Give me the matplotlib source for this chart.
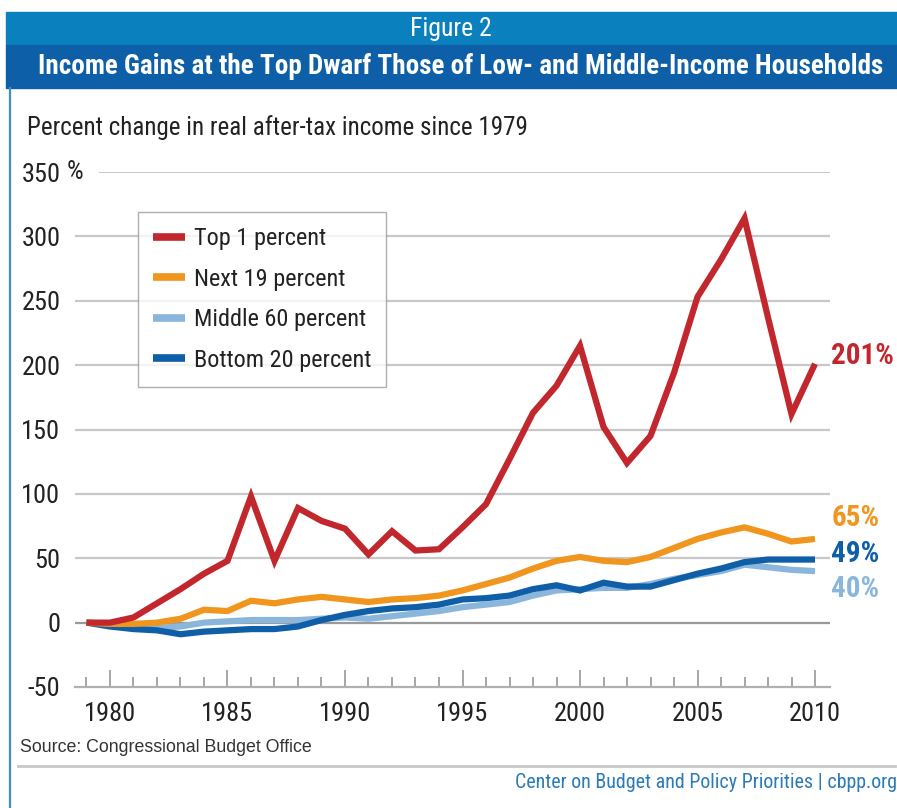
import matplotlib
matplotlib.use("Agg")
import matplotlib.pyplot as plt
from matplotlib.patches import Rectangle
from matplotlib.lines import Line2D
from matplotlib.ticker import MultipleLocator, FixedLocator

years = list(range(1979, 2011))
top1 = [0, 0, 4, 15, 26, 38, 48, 98, 48, 89, 79, 73, 53, 71, 56, 57, 74, 92, 127,
        163, 184, 215, 152, 124, 145, 194, 253, 282, 314, 237, 162, 201]
next19 = [0, -1, -1, 0, 3, 10, 9, 17, 15, 18, 20, 18, 16, 18, 19, 21, 25, 30, 35,
          42, 48, 51, 48, 47, 51, 58, 65, 70, 74, 69, 63, 65]
middle60 = [0, -1, -3, -4, -3, 0, 1, 2, 2, 2, 3, 4, 3, 5, 7, 9, 12, 14, 16,
            21, 25, 26, 27, 27, 30, 34, 37, 40, 45, 43, 41, 40]
bottom20 = [0, -3, -5, -6, -9, -7, -6, -5, -5, -3, 2, 6, 9, 11, 12, 14, 18, 19, 21,
            26, 29, 25, 31, 28, 28, 33, 38, 42, 47, 49, 49, 49]
series_names = ["Top 1 percent", "Next 19 percent", "Middle 60 percent", "Bottom 20 percent"]
end_labels = ["201%", "65%", "40%", "49%"]
yticks = [-50, 0, 50, 100, 150, 200, 250, 300, 350]
xticks = [1980, 1985, 1990, 1995, 2000, 2005, 2010]

RED = "#c1272d"
ORANGE = "#f0961e"
LBLUE = "#8ab6dc"
DBLUE = "#0f5ea8"
colors = [RED, ORANGE, LBLUE, DBLUE]

NARROW = ["Liberation Sans Narrow", "Roboto Condensed", "Roboto", "DejaVu Sans"]
plt.rcParams["font.family"] = NARROW

W, H = 897, 808
fig = plt.figure(figsize=(W / 100, H / 100), dpi=100)
fig.patch.set_facecolor("white")

def fx(px):
    return px / W

def fy(py):
    return 1 - py / H

# header bands
fig.add_artist(Rectangle((fx(6), fy(45)), fx(W - 6), 33 / H, transform=fig.transFigure,
                         color="#0b80bf", zorder=0))
fig.add_artist(Rectangle((fx(6), fy(88)), fx(W - 6), 43 / H, transform=fig.transFigure,
                         color="#0d5fa7", zorder=0))
# left border
fig.add_artist(Line2D([fx(10), fx(10)], [fy(88), 0], transform=fig.transFigure,
                      color="#3d8fcc", lw=1.6))

fig.text(fx(451), fy(29), "Figure 2", color="white", fontsize=18.5, ha="center", va="center")
title = fig.text(fx(461), fy(66), "Income Gains at the Top Dwarf Those of Low- and Middle-Income Households",
                 color="white", fontsize=17, fontweight="bold", ha="center", va="center")
sub = fig.text(fx(27), fy(128), "Percent change in real after-tax income since 1979",
               color="#222222", fontsize=16, ha="left", va="center")

# axes
x0, x1, ytop, ybot = 75, 830, 172, 687
ax = fig.add_axes([fx(x0), fy(ybot), (x1 - x0) / W, (ybot - ytop) / H])
yr_px = 23.5
xmin = 1979 + (x0 - 86.5) / yr_px
xmax = 1979 + (x1 - 86.5) / yr_px
ax.set_xlim(xmin, xmax)
ax.set_ylim(-50, 350)
for s in ["left", "right", "top"]:
    ax.spines[s].set_visible(False)
ax.spines["bottom"].set_color("#b0b0b0")
ax.spines["bottom"].set_linewidth(1.6)
ax.set_facecolor("none")

for v in yticks[1:]:
    if v == 0:
        ax.axhline(v, color="#9a9a9a", lw=1.6, zorder=1)
    elif v == 350:
        ax.axhline(v, xmin=25 / (x1 - x0), color="#c8c8c8", lw=1.4, zorder=1)
    else:
        ax.axhline(v, color="#c8c8c8", lw=1.6, zorder=1)

ax.set_yticks(yticks)
ax.set_yticklabels([str(v) for v in yticks])
ax.tick_params(axis="y", length=0, pad=10.5, labelsize=19, labelcolor="#222222")
ax.xaxis.set_major_locator(FixedLocator(xticks))
ax.xaxis.set_minor_locator(MultipleLocator(1))
ax.tick_params(axis="x", which="major", direction="in", length=12, width=1.3, color="#a0a0a0",
               pad=11, labelsize=19, labelcolor="#222222")
ax.tick_params(axis="x", which="minor", direction="in", length=7, width=1.3, color="#a0a0a0")
ax.text(-0.011, 350, "%", transform=ax.get_yaxis_transform(), fontsize=19, color="#222222",
        ha="left", va="center")

data = [top1, next19, middle60, bottom20]
zorders = [6, 5, 3, 4]
handles = []
for vals, c, name, z in zip(data, colors, series_names, zorders):
    ln, = ax.plot(years, vals, color=c, lw=4.5, zorder=z, solid_joinstyle="miter",
                  solid_capstyle="butt", label=name)
    handles.append(ln)

# end labels
lbl_y = {"201%": 207, "65%": 81, "49%": 53, "40%": 26}
for name_lbl, c in zip(end_labels, colors):
    ax.text(2010.7, lbl_y[name_lbl], name_lbl, color=c, fontsize=21, fontweight="bold",
            ha="left", va="center", clip_on=False)

leg = ax.legend(handles=handles, loc="upper left",
                bbox_to_anchor=((138 - x0) / (x1 - x0), 1 - (212 - ytop) / (ybot - ytop)),
                fontsize=17.5, frameon=True, fancybox=False, shadow=False, handlelength=1.3,
                handletextpad=0.37, labelspacing=0.72, borderpad=0.62, borderaxespad=0)
leg.get_frame().set_edgecolor("#9a9a9a")
leg.get_frame().set_linewidth(1.0)
for t in leg.get_texts():
    t.set_color("#222222")
for lh in leg.get_lines():
    lh.set_linewidth(5.5)
leg.set_zorder(10)

# source and footer
fig.text(fx(20), fy(748), "Source: Congressional Budget Office", fontsize=12.8, color="#333333",
         family=["Liberation Sans", "DejaVu Sans"], ha="left", va="center")
fig.add_artist(Line2D([fx(18), fx(895)], [fy(766), fy(766)], transform=fig.transFigure,
                      color="#c8c8c8", lw=2))
foot = fig.text(fx(897), fy(782), "Center on Budget and Policy Priorities | cbpp.org", fontsize=13,
                color="#2a7bb8", ha="right", va="center")

# fit header text widths
fig.canvas.draw()
r = fig.canvas.get_renderer()
def fit(t, target):
    w = t.get_window_extent(renderer=r).width
    t.set_fontsize(t.get_fontsize() * target / w)
fit(title, 885 - 37)
fit(sub, 528 - 27)
fit(foot, 897 - 517)

fig.savefig("out.png", dpi=100)
